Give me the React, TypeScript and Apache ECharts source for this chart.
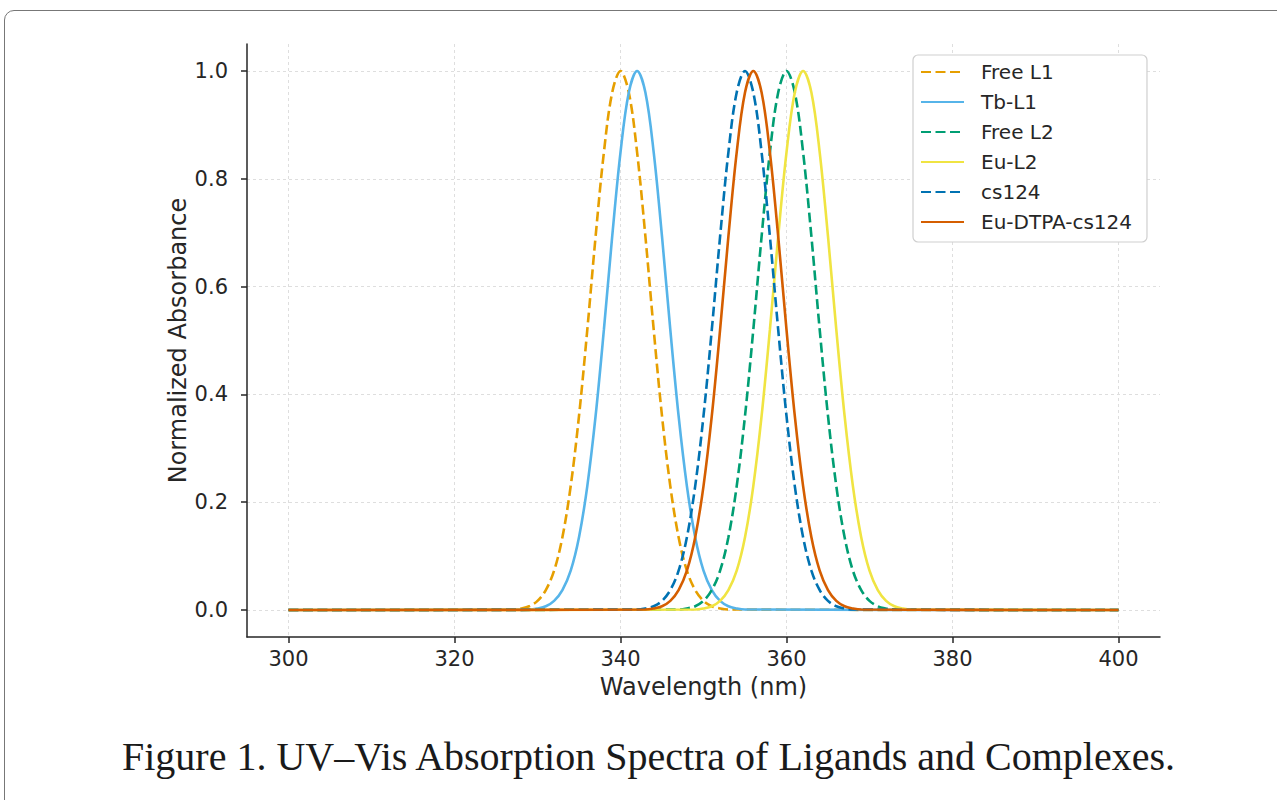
import React, { useEffect, useRef } from "react";
import * as echarts from "echarts";

const caption = "Figure 1. UV\u2013Vis Absorption Spectra of Ligands and Complexes.";
const xTicks = [300, 320, 340, 360, 380, 400];
const yTicks = [0, 0.2, 0.4, 0.6, 0.8, 1.0];
const seriesNames = ["Free L1", "Tb-L1", "Free L2", "Eu-L2", "cs124", "Eu-DTPA-cs124"];
const seriesColors = ["#E69F00", "#56B4E9", "#009E73", "#F0E442", "#0072B2", "#D55E00"];
const seriesDashed = [true, false, true, false, true, false];

const freeL1: [number, number][] = [
  [300, 0], [327, 0.001], [328, 0.003], [329, 0.007], [330, 0.017], [331, 0.037], [332, 0.073],
  [333, 0.135], [334, 0.23], [335, 0.36], [336, 0.52], [337, 0.693], [338, 0.849], [339, 0.96],
  [340, 1.0], [341, 0.96], [342, 0.849], [343, 0.693], [344, 0.52], [345, 0.36], [346, 0.23],
  [347, 0.135], [348, 0.073], [349, 0.037], [350, 0.017], [351, 0.007], [352, 0.003], [353, 0.001], [400, 0],
];
const tbL1: [number, number][] = [
  [300, 0], [329, 0.001], [330, 0.003], [331, 0.007], [332, 0.017], [333, 0.037], [334, 0.073],
  [335, 0.135], [336, 0.23], [337, 0.36], [338, 0.52], [339, 0.693], [340, 0.849], [341, 0.96],
  [342, 1.0], [343, 0.96], [344, 0.849], [345, 0.693], [346, 0.52], [347, 0.36], [348, 0.23],
  [349, 0.135], [350, 0.073], [351, 0.037], [352, 0.017], [353, 0.007], [354, 0.003], [355, 0.001], [400, 0],
];
const freeL2: [number, number][] = [
  [300, 0], [347, 0.001], [348, 0.003], [349, 0.007], [350, 0.017], [351, 0.037], [352, 0.073],
  [353, 0.135], [354, 0.23], [355, 0.36], [356, 0.52], [357, 0.693], [358, 0.849], [359, 0.96],
  [360, 1.0], [361, 0.96], [362, 0.849], [363, 0.693], [364, 0.52], [365, 0.36], [366, 0.23],
  [367, 0.135], [368, 0.073], [369, 0.037], [370, 0.017], [371, 0.007], [372, 0.003], [373, 0.001], [400, 0],
];
const euL2: [number, number][] = [
  [300, 0], [349, 0.001], [350, 0.003], [351, 0.007], [352, 0.017], [353, 0.037], [354, 0.073],
  [355, 0.135], [356, 0.23], [357, 0.36], [358, 0.52], [359, 0.693], [360, 0.849], [361, 0.96],
  [362, 1.0], [363, 0.96], [364, 0.849], [365, 0.693], [366, 0.52], [367, 0.36], [368, 0.23],
  [369, 0.135], [370, 0.073], [371, 0.037], [372, 0.017], [373, 0.007], [374, 0.003], [375, 0.001], [400, 0],
];
const cs124: [number, number][] = [
  [300, 0], [342, 0.001], [343, 0.003], [344, 0.007], [345, 0.017], [346, 0.037], [347, 0.073],
  [348, 0.135], [349, 0.23], [350, 0.36], [351, 0.52], [352, 0.693], [353, 0.849], [354, 0.96],
  [355, 1.0], [356, 0.96], [357, 0.849], [358, 0.693], [359, 0.52], [360, 0.36], [361, 0.23],
  [362, 0.135], [363, 0.073], [364, 0.037], [365, 0.017], [366, 0.007], [367, 0.003], [368, 0.001], [400, 0],
];
const euDtpaCs124: [number, number][] = [
  [300, 0], [343, 0.001], [344, 0.003], [345, 0.007], [346, 0.017], [347, 0.037], [348, 0.073],
  [349, 0.135], [350, 0.23], [351, 0.36], [352, 0.52], [353, 0.693], [354, 0.849], [355, 0.96],
  [356, 1.0], [357, 0.96], [358, 0.849], [359, 0.693], [360, 0.52], [361, 0.36], [362, 0.23],
  [363, 0.135], [364, 0.073], [365, 0.037], [366, 0.017], [367, 0.007], [368, 0.003], [369, 0.001], [400, 0],
];
const seriesData = [freeL1, tbL1, freeL2, euL2, cs124, euDtpaCs124];

const SANS = "DejaVu Sans";
const INK = "#262626";

export default function App() {
  const ref = useRef<HTMLDivElement>(null);
  useEffect(() => {
    if (!ref.current) return;
    const chart = echarts.init(ref.current, null, { renderer: "svg" });
    const axisLineStyle = { color: INK, width: 1.5 };
    const gridStyle = { type: [3, 3] as number[], color: "#dedede", width: 1 };
    chart.setOption({
      animation: false,
      backgroundColor: "transparent",
      title: {
        text: caption,
        left: 122,
        top: 736,
        padding: 0,
        textStyle: { fontFamily: "Liberation Serif", fontSize: 40, fontWeight: "normal", color: "#1a1a1a" },
      },
      grid: { left: 247, right: 117, top: 44, bottom: 163, containLabel: false },
      legend: {
        orient: "vertical",
        left: 913,
        top: 55,
        padding: [7, 15, 10, 7],
        itemWidth: 43,
        itemHeight: 14,
        itemGap: 10,
        backgroundColor: "#fff",
        borderColor: "#cfcfcf",
        borderWidth: 1.2,
        borderRadius: 5,
        data: seriesNames,
        itemStyle: { opacity: 0 },
        textStyle: { fontFamily: SANS, fontSize: 20, color: INK, lineHeight: 20, padding: [0, 0, 0, 12] },
      },
      xAxis: {
        type: "value",
        min: 295,
        max: 405,
        name: "Wavelength (nm)",
        nameLocation: "middle",
        nameGap: 38,
        nameMoveOverlap: false,
        nameTextStyle: { fontFamily: SANS, fontSize: 24, color: INK },
        axisLine: { onZero: false, lineStyle: axisLineStyle },
        axisTick: { show: true, length: 6, customValues: xTicks, lineStyle: axisLineStyle },
        axisLabel: { customValues: xTicks, fontFamily: SANS, fontSize: 21, color: INK, margin: 11 },
        splitLine: { show: true, lineStyle: gridStyle },
      },
      yAxis: {
        type: "value",
        min: -0.05,
        max: 1.05,
        name: "Normalized Absorbance",
        nameLocation: "middle",
        nameGap: 57,
        nameMoveOverlap: false,
        nameTextStyle: { fontFamily: SANS, fontSize: 24, color: INK },
        axisLine: { show: true, onZero: false, lineStyle: axisLineStyle },
        axisTick: { show: true, length: 6, customValues: yTicks, lineStyle: axisLineStyle },
        axisLabel: {
          customValues: yTicks,
          fontFamily: SANS,
          fontSize: 21,
          color: INK,
          margin: 19,
          formatter: (v: number) => v.toFixed(1),
        },
        splitLine: { show: true, lineStyle: gridStyle },
      },
      series: seriesNames.map((name, i) => ({
        name,
        type: "line",
        data: seriesData[i],
        symbol: "none",
        smooth: 0.35,
        color: seriesColors[i],
        lineStyle: {
          color: seriesColors[i],
          width: 2.6,
          type: seriesDashed[i] ? [10, 4.5] : "solid",
        },
        z: 2 + i,
      })),
    });
    return () => chart.dispose();
  }, []);

  return (
    <div style={{ position: "absolute", left: 0, top: 0, width: 1277, height: 800, overflow: "hidden", background: "#fff" }}>
      <div
        style={{
          position: "absolute",
          left: 4,
          top: 10,
          width: 1300,
          height: 820,
          border: "1.5px solid #777",
          borderRadius: 10,
          boxSizing: "border-box",
        }}
      />
      <div ref={ref} style={{ position: "absolute", left: 0, top: 0, width: 1277, height: 800 }} />
    </div>
  );
}
